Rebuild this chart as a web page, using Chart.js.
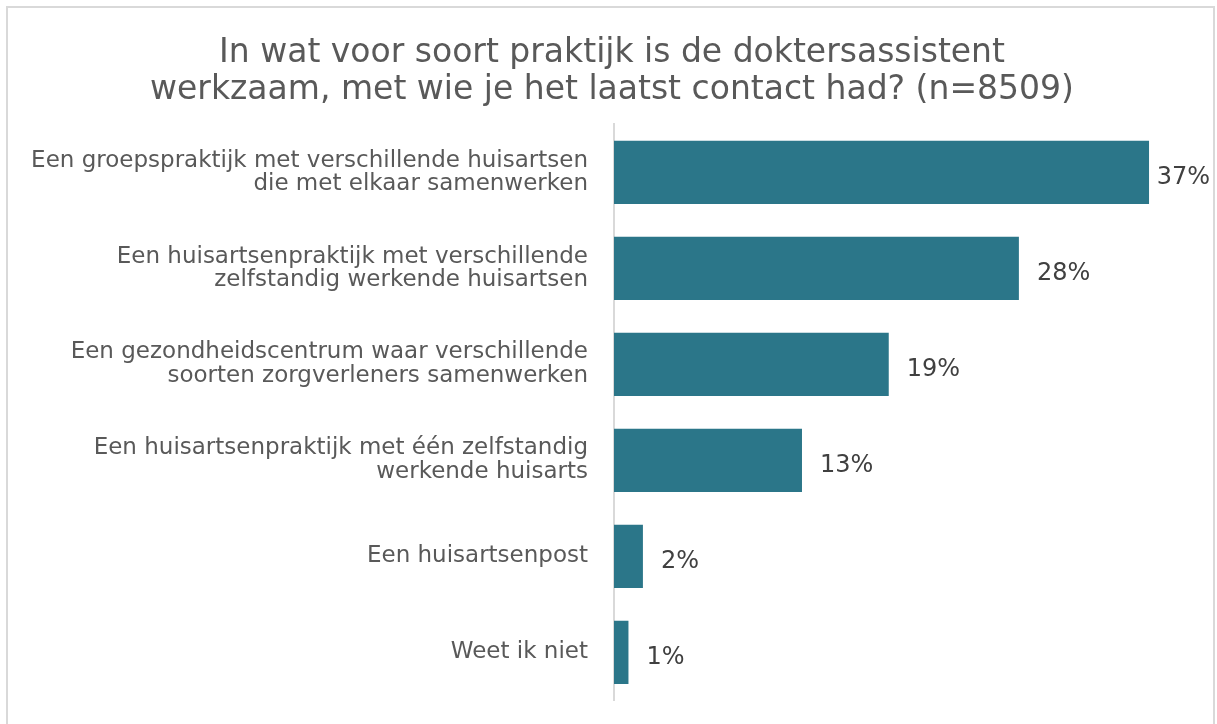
<!DOCTYPE html>
<html>
<head>
<meta charset="utf-8">
<script src="https://cdn.jsdelivr.net/npm/chart.js@4/dist/chart.umd.min.js"></script>
<style>
  html, body { margin: 0; padding: 0; background: #ffffff; overflow: hidden; }
  #frame {
    position: absolute; left: 6px; top: 6px; width: 1205px; height: 760px;
    border: 2px solid #d9d9d9; box-sizing: content-box;
  }
  #chart { position: absolute; left: 0; top: 0; }
</style>
</head>
<body>
<div id="frame"></div>
<canvas id="chart" width="1217" height="724"></canvas>
<script>
// Survey answers: type of practice of the doctor's assistant last contacted
const titleLines = [
  'In wat voor soort praktijk is de doktersassistent',
  'werkzaam, met wie je het laatst contact had? (n=8509)'
];
const categories = [
  ['Een groepspraktijk met verschillende huisartsen', 'die met elkaar samenwerken'],
  ['Een huisartsenpraktijk met verschillende', 'zelfstandig werkende huisartsen'],
  ['Een gezondheidscentrum waar verschillende', 'soorten zorgverleners samenwerken'],
  ['Een huisartsenpraktijk met één zelfstandig', 'werkende huisarts'],
  'Een huisartsenpost',
  'Weet ik niet'
];
const percentages = [37, 28, 19, 13, 2, 1];

const FONT = '"DejaVu Sans", Verdana, Tahoma, sans-serif';

// Percentage labels just past the end of each bar, kept inside the frame
const valueLabels = {
  id: 'valueLabels',
  afterDatasetsDraw(chart) {
    const ctx = chart.ctx;
    const meta = chart.getDatasetMeta(0);
    const data = chart.data.datasets[0].data;
    ctx.save();
    ctx.font = '24px ' + FONT;
    ctx.fillStyle = '#404040';
    ctx.textAlign = 'left';
    ctx.textBaseline = 'alphabetic';
    const limit = chart.width - 7;
    meta.data.forEach((bar, i) => {
      const text = data[i] + '%';
      const w = ctx.measureText(text).width;
      const x = Math.min(bar.x + 18, limit - w);
      ctx.fillText(text, x, bar.y + 12);
    });
    ctx.restore();
  }
};

new Chart(document.getElementById('chart'), {
  type: 'bar',
  data: {
    labels: categories,
    datasets: [{
      data: percentages,
      backgroundColor: '#2b7689',
      borderWidth: 0,
      barPercentage: 0.66,
      categoryPercentage: 1.0
    }]
  },
  options: {
    indexAxis: 'y',
    responsive: false,
    animation: false,
    layout: { padding: { left: 7, right: 0, top: 0, bottom: 23.5 } },
    plugins: {
      legend: { display: false },
      tooltip: { enabled: false },
      title: {
        display: true,
        text: titleLines,
        color: '#595959',
        font: { family: FONT, size: 33, weight: 'normal', lineHeight: 1.12 },
        padding: { top: 34.5, bottom: 16 }
      }
    },
    scales: {
      x: {
        display: false,
        min: 0,
        max: 41.7
      },
      y: {
        afterFit(scale) { scale.width = 607; },
        grid: { display: false, drawTicks: true, tickLength: 26 },
        border: { display: true, color: '#d9d9d9', width: 2 },
        ticks: {
          autoSkip: false,
          padding: 0,
          color: '#595959',
          font: { family: FONT, size: 23, lineHeight: 1.03 }
        }
      }
    }
  },
  plugins: [valueLabels]
});
</script>
</body>
</html>
